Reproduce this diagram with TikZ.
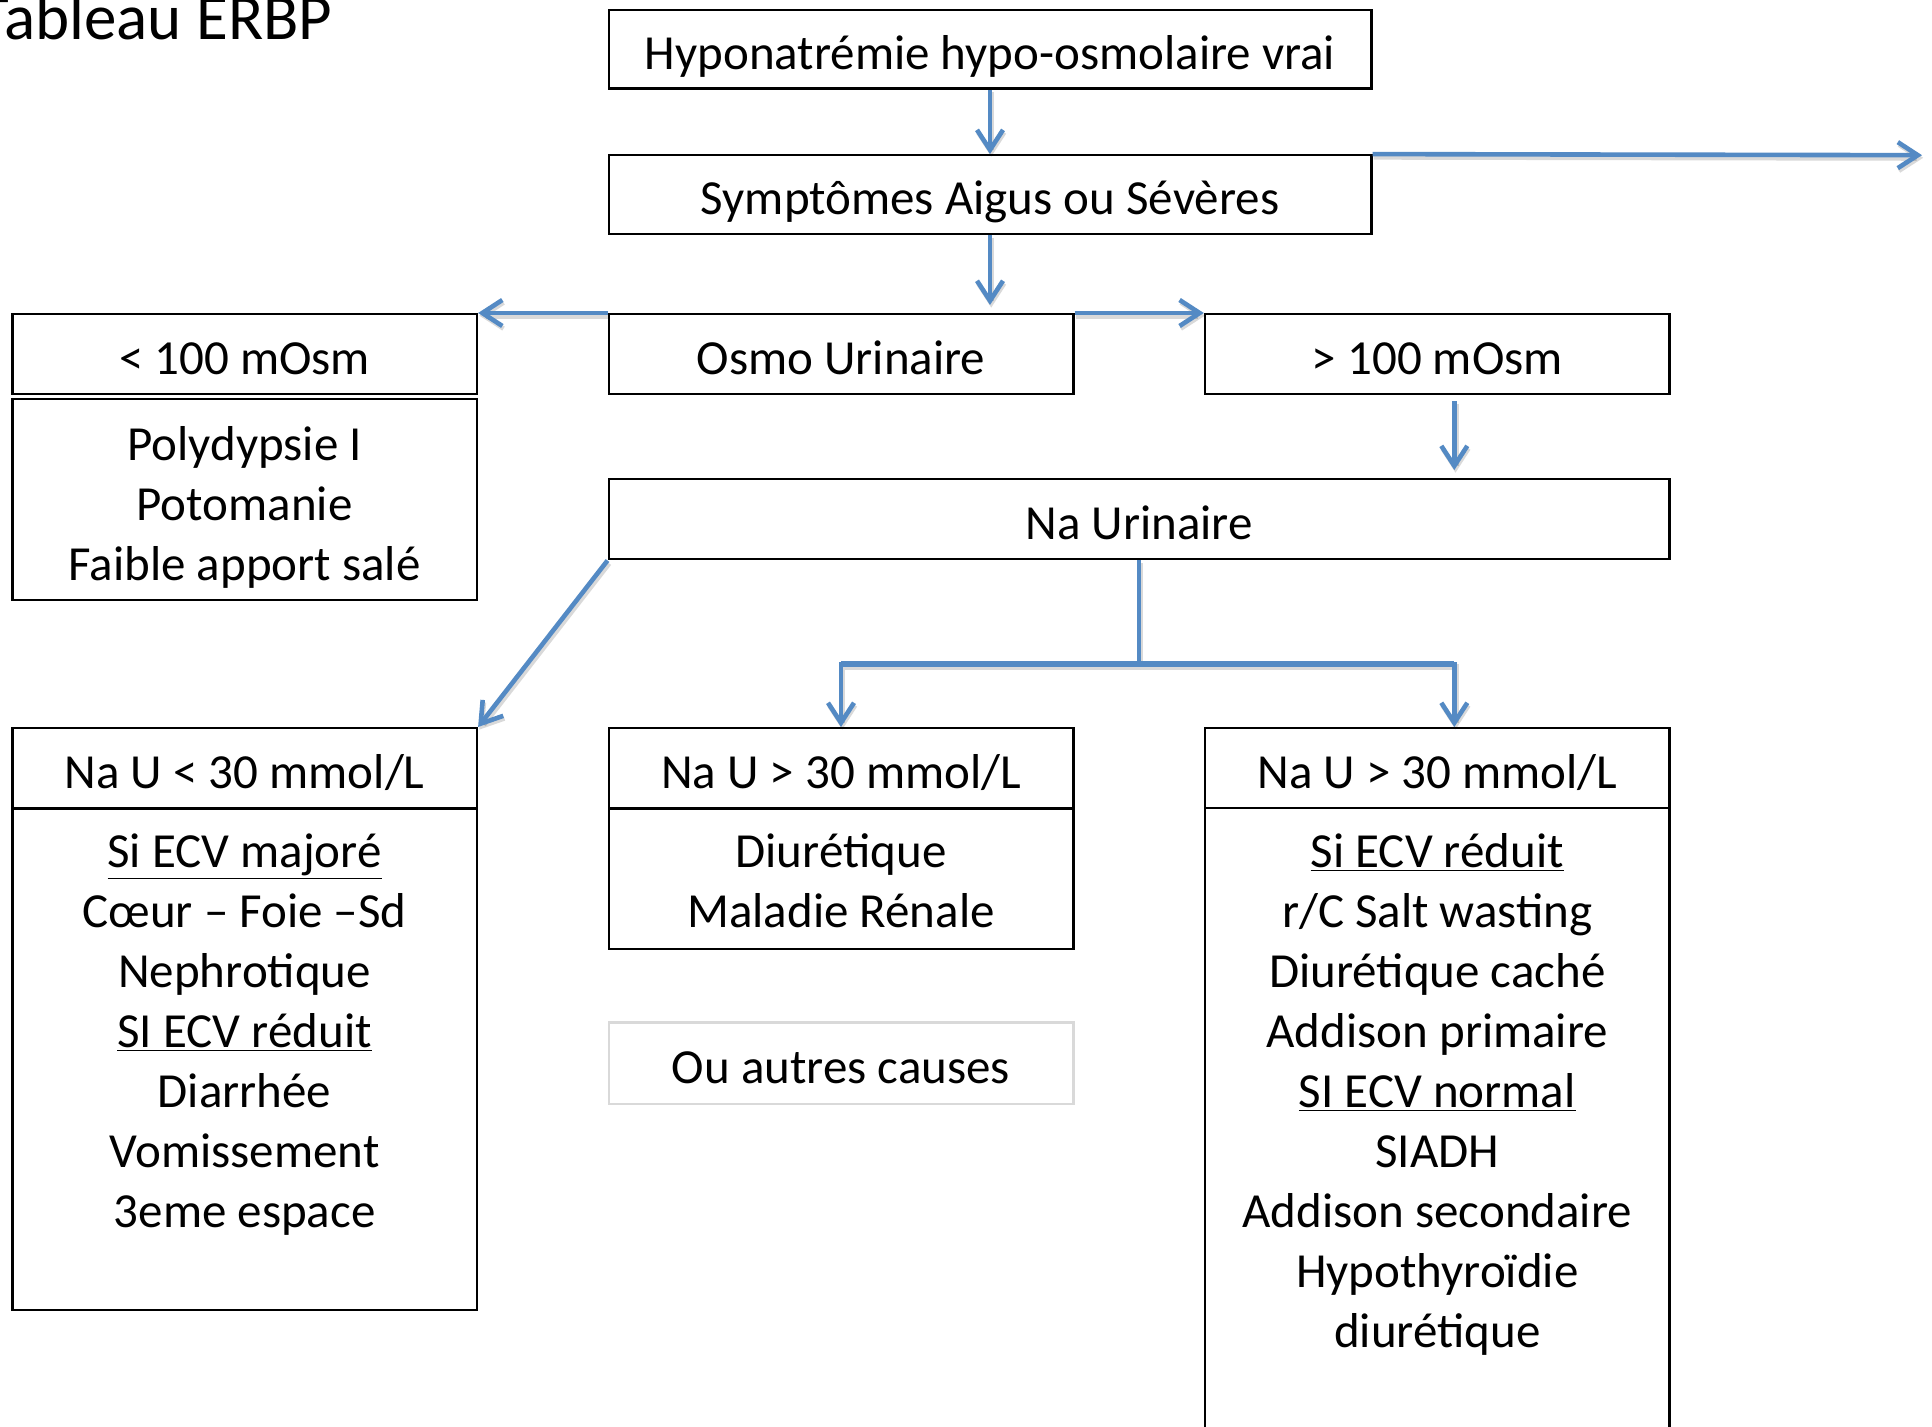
\documentclass[tikz,border=0pt]{standalone}
\usepackage{fontspec}
\setmainfont{Carlito}
\usetikzlibrary{arrows.meta}
\definecolor{flowblue}{RGB}{84,138,196}
\definecolor{softgray}{RGB}{217,217,217}
\newcommand\ecvline[1]{\underline{#1}}

\begin{document}
\begin{tikzpicture}[x=0.5pt,y=-0.5pt,
  every node/.style={font=\fontsize{24.5}{30}\selectfont, inner sep=0pt},
  box/.style={draw=black, line width=1.2pt, minimum width=232.3pt,
    minimum height=40pt, align=center},
  oneline/.style={box, text height=22pt, text depth=2pt},
  wide/.style={oneline, minimum width=381.3pt, minimum height=39.4pt},
  lines/.style={anchor=north, align=center},
  flowline/.style={draw=flowblue, line width=2.3pt},
  shade/.style={preaction={draw=black, draw opacity=0.15, line width=3pt,
    transform canvas={xshift=0.6pt, yshift=-1.3pt}}},
  flow/.style={flowline, shade, -{Straight Barb[length=10pt,width=13pt,line width=2.3pt]}}]

% page
\fill[white] (0,0) rectangle (1932,1427);
\useasboundingbox (0,0) rectangle (1932,1427);

% title
\node[anchor=base east, font=\fontsize{32.5}{39}\selectfont] (title) at (333,40) {Tableau ERBP};

% first levels
\node[wide] (hypo) at (990,49.3) {Hyponatrémie hypo-osmolaire vrai};
\node[wide] (sympt) at (990,194.7) {Symptômes Aigus ou Sévères};
\node[oneline] (osmo) at (841,354.2) {Osmo Urinaire};
\node[oneline] (low) at (244.6,354.2) {< 100 mOsm};
\node[box, minimum height=100.4pt] (poly) at (244.6,499.6) {};
\node[lines] (polyt) at (244.6,418.6) {\strut Polydypsie I\\Potomanie\\Faible apport salé};
\node[oneline] (high) at (1437.3,354.2) {> 100 mOsm};
\node[oneline, minimum width=530.4pt] (naur) at (1139.1,519.3) {Na Urinaire};

% Na U < 30
\node[oneline] (nalowh) at (244.6,768.2) {Na U < 30 mmol/L};
\node[box, minimum height=250.7pt] (nalowb) at (244.6,1059) {};
\node[lines] (nalowt) at (244.6,825)
  {\strut\ecvline{Si ECV majoré}\\Cœur – Foie –Sd\\Nephrotique\\\ecvline{SI ECV réduit}\\Diarrhée\\Vomissement\\3eme espace};

% Na U > 30 (middle)
\node[oneline] (namidh) at (841,768.2) {Na U > 30 mmol/L};
\node[box, minimum height=70.2pt] (namidb) at (841,878.5) {};
\node[lines] (namidt) at (841,825) {\strut Diurétique\\Maladie Rénale};
\node[oneline, draw=softgray, minimum height=40.7pt] (autres) at (841,1063.3) {Ou autres causes};

% Na U > 30 (right)
\node[oneline] (nahighh) at (1437.3,768.2) {Na U > 30 mmol/L};
\node[box, minimum height=315.9pt] (nahighb) at (1437.3,1124) {};
\node[lines] (nahight) at (1437.3,825)
  {\strut\ecvline{Si ECV réduit}\\r/C Salt wasting\\Diurétique caché\\Addison primaire\\\ecvline{SI ECV normal}\\SIADH\\Addison secondaire\\Hypothyroïdie\\diurétique};

% connectors
\coordinate (far) at (1922,155.2);
\draw[flow] (hypo.south) -- (sympt.north);
\draw[flow] (sympt.north east) -- (far);
\draw[flow, shorten >=4pt] (sympt.south) -- (sympt.south |- osmo.north);
\draw[flow] (osmo.north west) -- (low.north east);
\draw[flow] (osmo.north east) -- (high.north west);
\draw[flow, shorten <=3pt, shorten >=4pt] ([xshift=8.5pt]high.south) -- ([xshift=8.5pt]high.south |- naur.north);
\draw[flow] (naur.south west) -- (nalowh.north east);
\draw[flowline, shade] (naur.south) -- ++(0,103.6) coordinate (split);
\draw[flow] (split) -| (namidh.north);
\draw[flow] (split) -| ([xshift=8.5pt]nahighh.north);
\draw[flowline, line width=3pt] (namidh.north |- split) -- ([xshift=8.5pt]nahighh.north |- split);
\end{tikzpicture}
\end{document}
